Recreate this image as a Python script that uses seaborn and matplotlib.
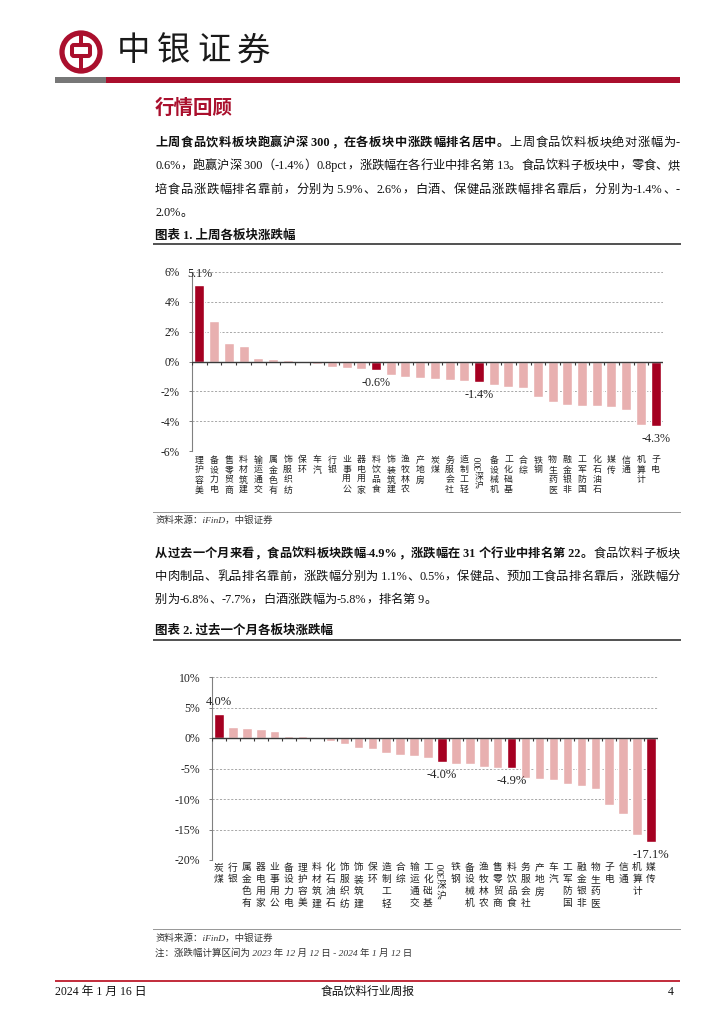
import re
import numpy as np
import pandas as pd
import matplotlib
matplotlib.use("Agg")
import matplotlib.pyplot as plt
import seaborn as sns
from matplotlib.patches import Rectangle, Circle, FancyBboxPatch

# ---------------- data ----------------
cats1 = ["美容护理", "电力设备", "商贸零售", "建筑材料", "交通运输", "有色金属", "纺织服饰", "环保",
         "汽车", "银行", "公用事业", "家用电器", "食品饮料", "建筑装饰", "农林牧渔", "房地产",
         "煤炭", "社会服务", "轻工制造", "沪深300", "机械设备", "基础化工", "综合", "钢铁",
         "医药生物", "非银金融", "国防军工", "石油石化", "传媒", "通信", "计算机", "电子"]
vals1 = [5.1, 2.73, 1.25, 1.07, 0.22, 0.18, 0.10, -0.06, -0.15, -0.35, -0.45, -0.50, -0.6, -0.92,
         -1.07, -1.11, -1.2, -1.21, -1.31, -1.4, -1.58, -1.71, -1.76, -2.38, -2.71, -2.91, -2.96,
         -3.0, -3.07, -3.22, -4.24, -4.3]
hl1 = ["美容护理", "食品饮料", "沪深300", "电子"]
yticks1 = [-6, -4, -2, 0, 2, 4, 6]

cats2 = ["煤炭", "银行", "有色金属", "家用电器", "公用事业", "电力设备", "美容护理", "建筑材料",
         "石油石化", "纺织服饰", "建筑装饰", "环保", "轻工制造", "综合", "交通运输", "基础化工",
         "沪深300", "钢铁", "机械设备", "农林牧渔", "商贸零售", "食品饮料", "社会服务", "房地产",
         "汽车", "国防军工", "非银金融", "医药生物", "电子", "通信", "计算机", "传媒"]
vals2 = [4.0, 1.8, 1.64, 1.53, 1.2, 0.38, 0.27, -0.16, -0.44, -0.93, -1.69, -1.86, -2.4, -2.79,
         -2.97, -3.33, -4.0, -4.3, -4.32, -4.75, -4.85, -4.9, -6.5, -6.78, -6.94, -7.6, -7.87,
         -8.36, -11.04, -12.4, -15.9, -17.1]
hl2 = ["煤炭", "沪深300", "食品饮料", "传媒"]
yticks2 = [-20, -15, -10, -5, 0, 5, 10]

DARK = "#A50021"
LIGHT = "#E8B0B0"
RED = "#AA0F2D"
W, H = 724, 1024
CJK = ["Liberation Serif", "Noto Sans CJK SC", "DejaVu Sans"]
SERIF = ["Liberation Serif", "Noto Sans CJK SC"]

sns.set_theme(style="white")
plt.rcParams["font.family"] = CJK
plt.rcParams["axes.unicode_minus"] = False

fig = plt.figure(figsize=(W / 100, H / 100), dpi=100)
fig.patch.set_facecolor("white")

# page overlay in pixel coords
page = fig.add_axes([0, 0, 1, 1])
page.set_xlim(0, W)
page.set_ylim(H, 0)
page.axis("off")

renderer = fig.canvas.get_renderer()


def hrule(y, x0, x1, lw_px, color):
    page.add_patch(Rectangle((x0, y - lw_px / 2), x1 - x0, lw_px, color=color, lw=0))


def draw_line(x0, x1, y, segments, fs, justify=True, color="#111111"):
    toks = []
    for text, weight in segments:
        for t in re.findall(r"[ -~]+|.", text):
            toks.append((t, weight))
    objs = [page.text(0, y, t, fontsize=fs, fontweight=w, family=CJK, va="center",
                      ha="left", color=color) for t, w in toks]
    widths = [o.get_window_extent(renderer=renderer).width for o in objs]
    total = sum(widths)
    gap = (x1 - x0 - total) / (len(objs) - 1) if (justify and len(objs) > 1) else 0
    x = x0
    for o, w in zip(objs, widths):
        o.set_x(x)
        x += w + gap


# ---------------- header ----------------
page.add_patch(Circle((81, 52), 19, fill=False, ec=RED, lw=3.8))
page.add_patch(Rectangle((79, 31), 4.2, 42, color=RED, lw=0))
page.add_patch(FancyBboxPatch((72, 45), 18, 11, boxstyle="round,pad=0,rounding_size=2",
                              fc="white", ec=RED, lw=2.9))
for k, ch in enumerate("中银证券"):
    page.text(117 + k * 40, 52, ch, fontsize=24, family=CJK, ha="left", va="center",
              color="#1a1a1a")
page.add_patch(Rectangle((55, 77), 51, 5.5, color="#777777", lw=0))
page.add_patch(Rectangle((106, 77), 574, 5.5, color=RED, lw=0))

page.text(155, 108, "行情回顾", fontsize=14, fontweight="bold", family=CJK, color=RED,
          ha="left", va="center")

# paragraph 1
X0, X1 = 155, 680
FS = 8.8
draw_line(X0, X1, 143, [("上周食品饮料板块跑赢沪深 300，在各板块中涨跌幅排名居中。", "bold"),
                        ("上周食品饮料板块绝对涨幅为-", "normal")], FS)
draw_line(X0, X1, 166, [("0.6%，跑赢沪深 300（-1.4%）0.8pct，涨跌幅在各行业中排名第 13。食品饮料子板块中，零食、烘", "normal")], FS)
draw_line(X0, X1, 190, [("培食品涨跌幅排名靠前，分别为 5.9%、2.6%，白酒、保健品涨跌幅排名靠后，分别为-1.4%、-", "normal")], FS)
draw_line(X0, X1, 213, [("2.0%。", "normal")], FS, justify=False)

page.text(155, 236, "图表 1. 上周各板块涨跌幅", fontsize=9, fontweight="bold", family=CJK,
          ha="left", va="center", color="#111111")
hrule(244, 153, 681, 1.3, "#555555")

# source 1
hrule(512, 153, 681, 1.0, "#999999")
page.text(155, 520, "资料来源：iFinD，中银证券", fontsize=6.8, style="italic", family=CJK,
          ha="left", va="center", color="#333333")

# paragraph 2
draw_line(X0, X1, 554, [("从过去一个月来看，食品饮料板块跌幅-4.9%，涨跌幅在 31 个行业中排名第 22。", "bold"),
                        ("食品饮料子板块", "normal")], FS)
draw_line(X0, X1, 577, [("中肉制品、乳品排名靠前，涨跌幅分别为 1.1%、0.5%，保健品、预加工食品排名靠后，涨跌幅分", "normal")], FS)
draw_line(X0, X1, 600, [("别为-6.8%、-7.7%，白酒涨跌幅为-5.8%，排名第 9。", "normal")], FS, justify=False)

page.text(155, 631, "图表 2. 过去一个月各板块涨跌幅", fontsize=9, fontweight="bold", family=CJK,
          ha="left", va="center", color="#111111")
hrule(640, 153, 681, 1.3, "#555555")

hrule(929, 153, 681, 1.0, "#999999")
page.text(155, 938, "资料来源：iFinD，中银证券", fontsize=6.8, style="italic", family=CJK,
          ha="left", va="center", color="#333333")
page.text(155, 953, "注：涨跌幅计算区间为 2023 年 12 月 12 日 - 2024 年 1 月 12 日", fontsize=6.8,
          style="italic", family=CJK, ha="left", va="center", color="#333333")

# footer
hrule(981, 55, 680, 2.0, "#C3303F")
page.text(55, 992, "2024 年 1 月 16 日", fontsize=8.5, family=CJK, ha="left", va="center",
          color="#111111")
page.text(368, 992, "食品饮料行业周报", fontsize=8.5, family=CJK, ha="center", va="center",
          color="#111111")
page.text(674, 992, "4", fontsize=8.5, family=CJK, ha="right", va="center", color="#111111")


# ---------------- charts ----------------
def make_chart(cats, vals, hl, yticks, box, ylab_fs, lab_fs, xl_fs, xl_top, xl_step, ypad):
    x0, y0, x1, y1 = box
    ax = fig.add_axes([x0 / W, 1 - y1 / H, (x1 - x0) / W, (y1 - y0) / H])
    ax.set_facecolor("none")
    df = pd.DataFrame({"cat": cats, "val": vals})
    pal = {c: (DARK if c in hl else LIGHT) for c in cats}
    sns.barplot(data=df, x="cat", y="val", hue="cat", order=cats, hue_order=cats,
                palette=pal, saturation=1, width=0.68, legend=False, ax=ax, zorder=2)
    n = len(cats)
    ax.set_xlim(-0.5, n - 0.5)
    ax.set_ylim(min(yticks), max(yticks))
    ax.set_xlabel("")
    ax.set_ylabel("")
    ax.set_xticks([])
    ax.set_yticks(yticks)
    ax.set_yticklabels([f"{v}%" for v in yticks], family=SERIF, fontsize=ylab_fs,
                       color="#222222")
    ax.tick_params(axis="y", left=True, length=2.3, width=0.7, color="#808080", pad=ypad)
    for s in ["top", "right", "bottom"]:
        ax.spines[s].set_visible(False)
    ax.spines["left"].set_color("#808080")
    ax.spines["left"].set_linewidth(0.8)
    for v in yticks:
        if v != 0:
            ax.axhline(v, ls=(0, (2.5, 2)), color="#9a9a9a", lw=0.6, zorder=0)
    ax.axhline(0, color="#3a3a3a", lw=1.0, zorder=3)
    hpx = y1 - y0
    tl = 3.0 / hpx * (max(yticks) - min(yticks))
    ax.vlines(np.arange(n + 1) - 0.5, -tl, 0, color="#3a3a3a", lw=0.8, zorder=3)

    # value labels
    for i, (c, v) in enumerate(zip(cats, vals)):
        if c in hl:
            off = 4 if v > 0 else -5
            ax.annotate(f"{v:.1f}%", xy=(i, v), xytext=(0, off), textcoords="offset points",
                        ha="center", va="bottom" if v > 0 else "top", fontsize=lab_fs,
                        family=SERIF, color="#222222", zorder=5)

    # stacked vertical category labels (bottom-to-top, upright CJK)
    tr = ax.get_xaxis_transform()
    for i, c in enumerate(cats):
        toks = re.findall(r"[0-9A-Za-z]+|.", c)
        off = xl_top
        for t in reversed(toks):
            if t.isascii():
                ax.annotate(t, xy=(i, 0), xycoords=tr, xytext=(0, -off * 0.72),
                            textcoords="offset points", rotation=90, ha="center", va="top",
                            fontsize=xl_fs + 0.5, family=SERIF, color="#222222",
                            annotation_clip=False)
                off += 0.5 * len(t) * (xl_fs + 0.5) / 0.72 + 2
            else:
                ax.annotate(t, xy=(i, 0), xycoords=tr, xytext=(0, -off * 0.72),
                            textcoords="offset points", ha="center", va="top",
                            fontsize=xl_fs, family=CJK, color="#222222",
                            annotation_clip=False)
                off += xl_step
    return ax


make_chart(cats1, vals1, hl1, yticks1, (192, 272, 663, 451), 8.3, 8.7, 6.4, 5, 10.0, 6.5)
make_chart(cats2, vals2, hl2, yticks2, (212, 677, 658, 860), 8.5, 9.0, 7.0, 3, 12.0, 6.0)

fig.savefig("out.png", dpi=100, facecolor="white")
